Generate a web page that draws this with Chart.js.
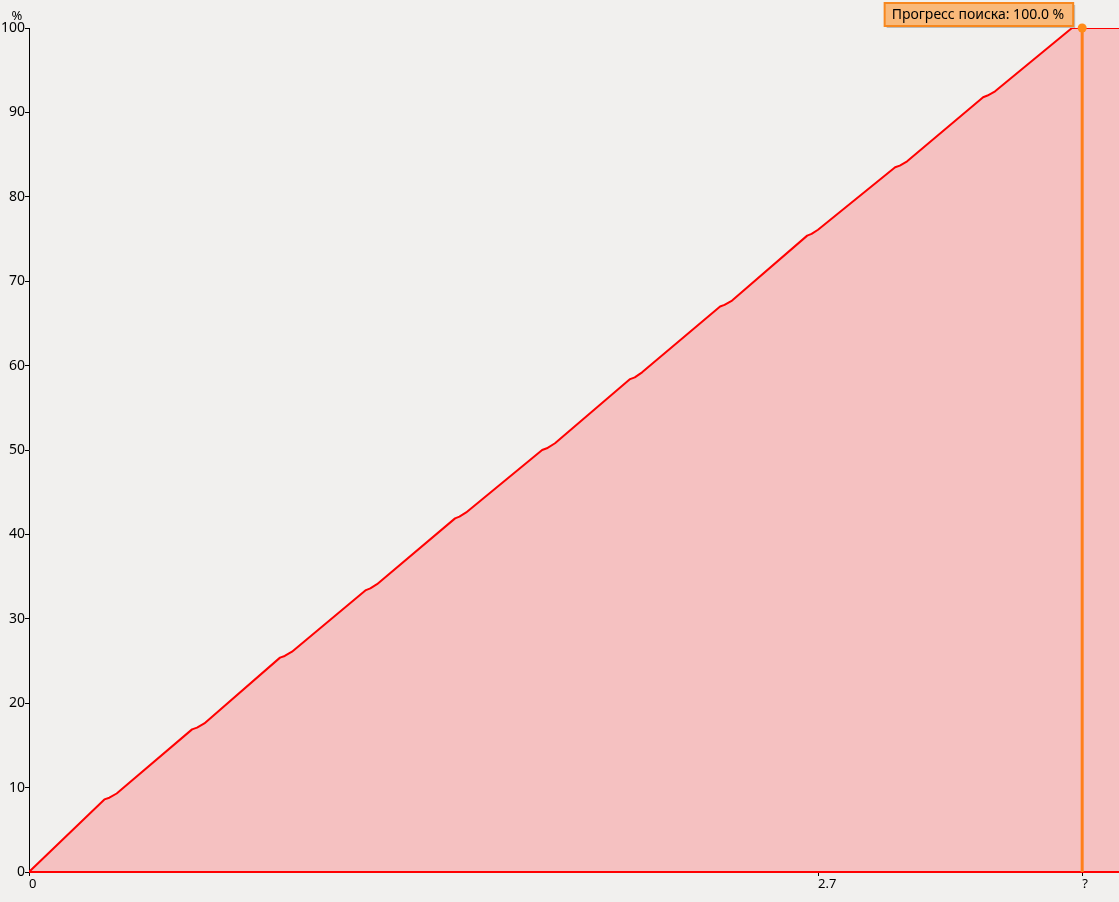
<!DOCTYPE html>
<html><head><meta charset="utf-8">
<script src="https://cdn.jsdelivr.net/npm/chart.js@4/dist/chart.umd.min.js"></script>
<style>html,body{margin:0;padding:0;background:#f1f0ee;}#wrap{width:1119px;height:902px;}</style>
</head><body><div id="wrap"><canvas id="c" width="1119" height="902"></canvas></div>
<script>
const progressX = [0, 0.258, 0.275, 0.300, 0.558, 0.575, 0.600, 0.859, 0.875, 0.900, 1.153, 1.168, 1.191, 1.458, 1.473, 1.496, 1.756, 1.772, 1.800, 2.057, 2.073, 2.098, 2.365, 2.380, 2.406, 2.663, 2.678, 2.700, 2.964, 2.980, 3.005, 3.265, 3.280, 3.306, 3.569, 3.730];
const progressY = [0, 8.6, 8.8, 9.3, 16.9, 17.1, 17.6, 25.4, 25.6, 26.1, 33.4, 33.6, 34.1, 41.9, 42.1, 42.6, 50.0, 50.2, 50.8, 58.4, 58.6, 59.2, 67.0, 67.2, 67.7, 75.4, 75.6, 76.1, 83.5, 83.7, 84.2, 91.8, 92.0, 92.5, 100, 100];
const xTickValues = [0, 2.7, 3.604];
const xTickLabels = ['0', '2.7', '?'];
const yTicks = [0,10,20,30,40,50,60,70,80,90,100];
const cursorX = 3.604;
const cursorY = 100;
const tooltipText = 'Прогресс поиска: 100.0 %';
const yUnit = '%';

const FONT = '"Noto Sans", sans-serif';

const overlay = {
  id: 'overlay',
  afterDraw(chart) {
    const ctx = chart.ctx;
    const xs = chart.scales.x;
    ctx.save();
    ctx.font = '13px ' + FONT;
    ctx.fillStyle = '#000';
    ctx.textAlign = 'center';
    ctx.textBaseline = 'alphabetic';
    ctx.fillText(yUnit, 17, 20);
    const px = xs.getPixelForValue(cursorX);
    ctx.font = '14px ' + FONT;
    const w = ctx.measureText(tooltipText).width + 16;
    const h = 23;
    const right = px - 9, top = 3;
    const left = right - w;
    ctx.fillStyle = 'rgba(0,0,0,0.22)';
    ctx.fillRect(left + 2, top + 2, w, h);
    ctx.fillStyle = '#f9b97a';
    ctx.fillRect(left, top, w, h);
    ctx.strokeStyle = '#f7881f';
    ctx.lineWidth = 2;
    ctx.strokeRect(left, top, w, h);
    ctx.fillStyle = '#000';
    ctx.textAlign = 'left';
    ctx.textBaseline = 'middle';
    ctx.fillText(tooltipText, left + 7, top + h / 2 + 1);
    ctx.restore();
  }
};

new Chart(document.getElementById('c'), {
  type: 'line',
  data: {
    datasets: [
      {
        data: progressX.map((x, i) => ({x, y: progressY[i]})),
        borderColor: '#ff0000',
        borderWidth: 2,
        backgroundColor: '#f5c1c1',
        fill: 'origin',
        pointRadius: 0,
        tension: 0,
        order: 3
      },
      {
        data: [{x: 0, y: 0}, {x: progressX[progressX.length - 1], y: 0}],
        borderColor: '#ff0000',
        borderWidth: 2,
        pointRadius: 0,
        fill: false,
        clip: false,
        order: 2
      },
      {
        data: [{x: cursorX, y: 0}, {x: cursorX, y: cursorY}],
        borderColor: '#ff7f1a',
        borderWidth: 3,
        pointRadius: [0, 4.5],
        pointBorderWidth: 0,
        pointBackgroundColor: '#ff8c1a',
        pointBorderColor: '#ff8c1a',
        fill: false,
        clip: false,
        order: 1
      }
    ]
  },
  options: {
    responsive: false,
    animation: false,
    layout: {autoPadding: false, padding: {top: 28, right: 0, left: 0, bottom: 0}},
    plugins: {legend: {display: false}, tooltip: {enabled: false}},
    elements: {line: {borderJoinStyle: 'round'}},
    scales: {
      x: {
        type: 'linear',
        z: 1,
        min: 0,
        max: progressX[progressX.length - 1],
        afterBuildTicks(s) { s.ticks = xTickValues.map(v => ({value: v})); },
        afterFit(s) { s.height = 30; s.paddingLeft = 0; s.paddingRight = 0; },
        grid: {drawOnChartArea: false, drawTicks: true, tickLength: 4, color: '#000'},
        border: {color: '#000', width: 1},
        ticks: {
          align: 'start',
          padding: 0,
          maxRotation: 0,
          autoSkip: false,
          color: '#000',
          font: {family: FONT, size: 13},
          callback(v) { const i = xTickValues.indexOf(v); return i >= 0 ? xTickLabels[i] : ''; }
        }
      },
      y: {
        type: 'linear',
        min: 0,
        max: 100,
        afterBuildTicks(s) { s.ticks = yTicks.map(v => ({value: v})); },
        afterFit(s) { s.width = 29; s.paddingTop = 0; s.paddingBottom = 0; },
        grid: {drawOnChartArea: false, drawTicks: true, tickLength: 4, color: '#000'},
        border: {color: '#000', width: 1},
        ticks: {
          padding: 0,
          color: '#000',
          font: {family: FONT, size: 14},
          callback(v) { return String(v); }
        }
      }
    }
  },
  plugins: [overlay]
});
</script>
</body></html>
